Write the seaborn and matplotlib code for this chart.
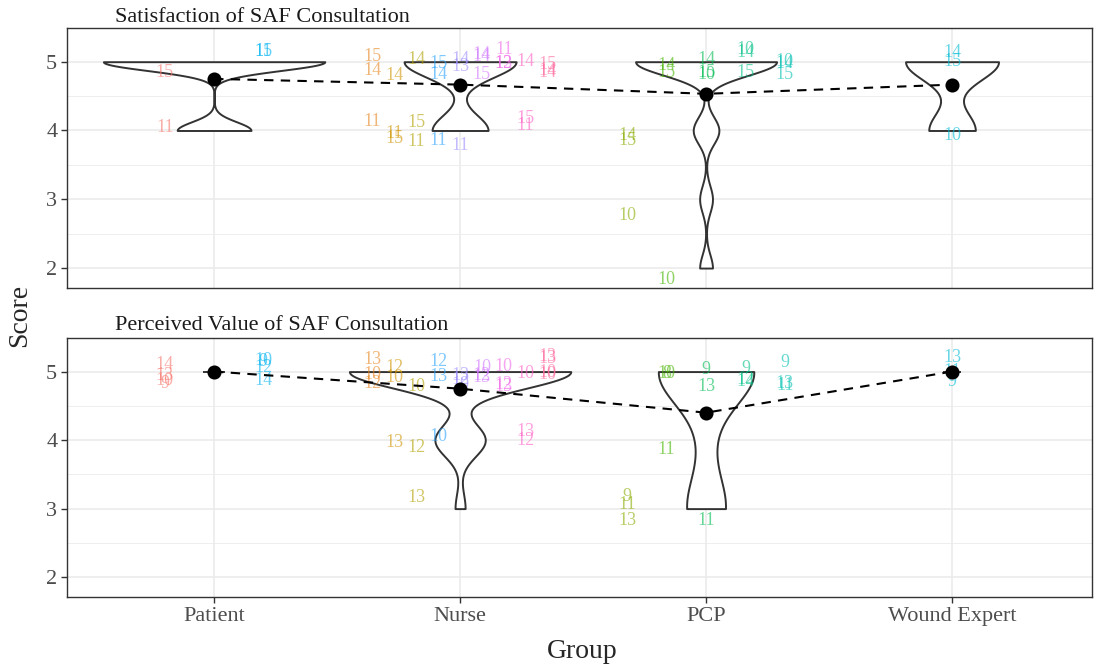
import numpy as np
import pandas as pd
import matplotlib
matplotlib.use("Agg")
import matplotlib.pyplot as plt
import seaborn as sns

# ---------------- data ----------------
GROUPS = ["Patient", "Nurse", "PCP", "Wound Expert"]
N_COHORTS = 17
TITLES = ["Satisfaction of SAF Consultation", "Perceived Value of SAF Consultation"]

# Panel 1: Satisfaction
sat_group = ["Patient", "Patient", "Patient", "Patient",
             "Nurse", "Nurse", "Nurse", "Nurse", "Nurse", "Nurse", "Nurse", "Nurse", "Nurse",
             "Nurse", "Nurse", "Nurse", "Nurse", "Nurse", "Nurse", "Nurse", "Nurse", "Nurse",
             "Nurse", "Nurse", "Nurse", "Nurse", "Nurse", "Nurse", "Nurse", "Nurse", "Nurse",
             "PCP", "PCP", "PCP", "PCP", "PCP", "PCP", "PCP", "PCP", "PCP", "PCP", "PCP", "PCP",
             "PCP", "PCP", "PCP",
             "Wound Expert", "Wound Expert", "Wound Expert"]
sat_cohort = [1, 1, 11, 11,
              2, 2, 2, 3, 3, 3, 4, 4, 4, 12, 12, 12, 13, 13, 13, 14, 14, 14, 15, 15, 15,
              16, 16, 16, 17, 17, 17,
              5, 5, 5, 6, 6, 6, 7, 7, 7, 8, 8, 8, 9, 9, 9,
              10, 10, 10]
sat_score = [5, 4, 5, 5,
             5, 5, 4, 5, 4, 4, 5, 4, 4, 5, 5, 4, 5, 5, 4, 5, 5, 5, 5, 5, 5,
             5, 4, 4, 5, 5, 5,
             4, 4, 3, 5, 5, 2, 5, 5, 5, 5, 5, 5, 5, 5, 5,
             5, 5, 4]
sat_label = ["15", "11", "15", "11",
             "15", "14", "11", "14", "11", "15", "14", "15", "11", "15", "14", "11",
             "14", "13", "11", "14", "15", "14", "11", "13", "12", "14", "15", "11",
             "15", "14", "14",
             "14", "15", "10", "14", "15", "10", "14", "10", "15", "10", "14", "15",
             "10", "14", "15",
             "14", "15", "10"]
sat_jitter = [-0.15, 0.04, 0.15, 0.15,
              0.07, -0.13, 0.13, -0.20, -0.04, -0.12, 0.03, 0.12, -0.16, -0.03, -0.19, -0.15,
              0.03, -0.07, -0.22, 0.10, -0.18, 0.08, 0.18, -0.03, -0.02, 0.00, 0.18, 0.07,
              -0.04, -0.13, -0.15,
              -0.07, -0.15, -0.24, -0.06, -0.16, -0.16, 0.03, -0.19, -0.15, 0.18, 0.13, -0.16,
              0.00, -0.03, -0.19,
              0.13, 0.00, -0.07]

# Panel 2: Perceived value
val_group = ["Patient", "Patient", "Patient", "Patient", "Patient", "Patient", "Patient", "Patient",
             "Nurse", "Nurse", "Nurse", "Nurse", "Nurse", "Nurse", "Nurse", "Nurse", "Nurse",
             "Nurse", "Nurse", "Nurse", "Nurse", "Nurse", "Nurse", "Nurse", "Nurse", "Nurse",
             "Nurse", "Nurse", "Nurse", "Nurse", "Nurse", "Nurse", "Nurse", "Nurse", "Nurse",
             "Nurse",
             "PCP", "PCP", "PCP", "PCP", "PCP", "PCP", "PCP", "PCP", "PCP", "PCP", "PCP", "PCP",
             "PCP", "PCP", "PCP",
             "Wound Expert", "Wound Expert", "Wound Expert"]
val_cohort = [1, 1, 1, 1, 11, 11, 11, 11,
              2, 2, 2, 3, 3, 3, 4, 4, 4, 12, 12, 12, 13, 13, 13, 14, 14, 14, 15, 15, 15,
              16, 16, 16, 17, 17, 17, 17,
              5, 5, 5, 6, 6, 6, 7, 7, 7, 8, 8, 8, 9, 9, 9,
              10, 10, 10]
val_score = [5, 5, 5, 5, 5, 5, 5, 5,
             5, 5, 5, 5, 5, 4, 5, 4, 3, 5, 5, 4, 5, 5, 5, 5, 5, 5, 5, 5, 5,
             5, 4, 4, 5, 5, 5, 5,
             3, 3, 3, 5, 5, 4, 5, 5, 3, 5, 5, 5, 5, 5, 5,
             5, 5, 5]
val_label = ["14", "13", "10", "9", "10", "9", "12", "14",
             "13", "10", "12", "12", "10", "13", "10", "12", "13", "12", "13", "10",
             "13", "12", "10", "10", "13", "12", "10", "13", "12", "10", "13", "12",
             "13", "13", "10", "10",
             "9", "11", "13", "10", "8", "11", "9", "13", "11", "9", "12", "14",
             "9", "13", "11",
             "13", "11", "9"]
val_jitter = [0.10, -0.06, -0.13, -0.17, 0.16, 0.15, 0.06, -0.13,
              0.17, -0.04, -0.17, 0.06, -0.09, -0.04, -0.22, -0.11, 0.16, 0.15, -0.07, 0.05,
              -0.06, -0.12, -0.19, 0.06, -0.09, -0.05, 0.07, -0.22, -0.19, -0.03, 0.12, 0.00,
              0.22, 0.19, -0.01, -0.04,
              0.18, 0.06, -0.18, -0.03, -0.03, -0.14, 0.03, -0.22, -0.18, 0.04, -0.12, -0.15,
              0.13, -0.18, -0.20,
              0.20, 0.00, -0.15]


# ---------------- helpers ----------------
def hue_pal(n, c=100.0, l=65.0):
    """ggplot2-like HCL hue palette."""
    hues = np.linspace(15, 375, n + 1)[:n]
    Xn, Yn, Zn = 95.047, 100.0, 108.883
    den = Xn + 15 * Yn + 3 * Zn
    un, vn = 4 * Xn / den, 9 * Yn / den
    M = np.array([[3.2404542, -1.5371385, -0.4985314],
                  [-0.9692660, 1.8760108, 0.0415560],
                  [0.0556434, -0.2040259, 1.0572252]])
    cols = []
    for h in hues:
        hr = np.deg2rad(h)
        u, v = c * np.cos(hr), c * np.sin(hr)
        Y = Yn * ((l + 16) / 116) ** 3
        up, vp = u / (13 * l) + un, v / (13 * l) + vn
        X = Y * 9 * up / (4 * vp)
        Z = Y * (12 - 3 * up - 20 * vp) / (4 * vp)
        rgb = M @ np.array([X, Y, Z]) / 100
        rgb = np.where(rgb <= 0.0031308, 12.92 * rgb, 1.055 * np.abs(rgb) ** (1 / 2.4) - 0.055)
        cols.append(tuple(np.clip(rgb, 0, 1)))
    return cols


def bw_nrd0(x):
    x = np.asarray(x, float)
    hi = np.std(x, ddof=1)
    q75, q25 = np.percentile(x, [75, 25])
    lo = min(hi, (q75 - q25) / 1.34)
    if not lo:
        lo = hi or abs(x[0]) or 1.0
    return 0.9 * lo * len(x) ** -0.2


def nrd0_factor(kde):
    x = kde.dataset.ravel()
    return bw_nrd0(x) / np.std(x, ddof=1)


def peak_density(x):
    x = np.asarray(x, float)
    bw = bw_nrd0(x)
    if x.min() == x.max():
        return 1 / (np.sqrt(2 * np.pi) * bw)
    grid = np.linspace(x.min(), x.max(), 512)
    d = np.exp(-0.5 * ((grid[:, None] - x[None, :]) / bw) ** 2).sum(1) / (len(x) * bw * np.sqrt(2 * np.pi))
    return d.max()


palette = hue_pal(N_COHORTS)

# ---------------- figure ----------------
sns.set_style("white")
plt.rcParams["font.family"] = ["Liberation Serif", "DejaVu Serif"]

fig = plt.figure(figsize=(10.94, 6.67), dpi=100)
W, H = 1094, 667
ax_top = fig.add_axes([67 / W, 1 - 288 / H, (1092 - 67) / W, 260 / H])
ax_bot = fig.add_axes([67 / W, 1 - 597 / H, (1092 - 67) / W, 259 / H])

panels = [
    (ax_top, sat_group, sat_cohort, sat_score, sat_label, sat_jitter),
    (ax_bot, val_group, val_cohort, val_score, val_label, val_jitter),
]

EDGE = "#333333"
DODGE_W = 0.8
VIOLIN_W = 0.9

for pi, (ax, grp, coh, sc, lab, jit) in enumerate(panels):
    df = pd.DataFrame({"group": grp, "cohort": coh, "score": sc, "label": lab, "jitter": jit})
    varying = [g for g in GROUPS if df.loc[df.group == g, "score"].nunique() > 1]
    flat = [g for g in GROUPS if df.loc[df.group == g, "score"].nunique() == 1]
    dv = df[df.group.isin(varying)]

    sns.violinplot(data=dv, x="group", y="score", order=GROUPS, ax=ax,
                   density_norm="area", cut=0, inner=None, width=VIOLIN_W,
                   bw_method=nrd0_factor, gridsize=512, color="white",
                   linecolor=EDGE, linewidth=1.4, saturation=1)

    # zero-variance groups collapse to a short horizontal segment
    dmax = max(peak_density(dv.loc[dv.group == g, "score"]) for g in varying)
    for g in flat:
        vals = df.loc[df.group == g, "score"].values
        half = VIOLIN_W / 2 * peak_density(vals) / dmax
        i = GROUPS.index(g)
        ax.hlines(vals[0], i - half, i + half, color=EDGE, lw=1.4, zorder=2)

    # dodged, jittered text labels coloured by cohort
    for gi, g in enumerate(GROUPS):
        sub = df[df.group == g]
        levels = sorted(sub.cohort.unique())
        n = len(levels)
        for _, r in sub.iterrows():
            k = levels.index(r.cohort)
            xpos = gi + (k - (n - 1) / 2) * DODGE_W / n
            ax.text(xpos, r.score + r.jitter, r.label, color=palette[r.cohort - 1],
                    alpha=0.6, fontsize=13, ha="center", va="center", zorder=3,
                    family=["Liberation Serif", "DejaVu Serif"])

    # group means with dashed connecting line
    n_before = len(ax.lines)
    sns.pointplot(data=df, x="group", y="score", order=GROUPS, estimator="mean",
                  errorbar=None, color="black", linestyle="--", marker="o",
                  markersize=9, linewidth=1.5, ax=ax)
    for ln in ax.lines[n_before:]:
        ln.set_dashes((4.5, 3.5))
        ln.set_zorder(5)

    # cosmetics (ggplot theme_bw look)
    ax.set_xlim(-0.598, 3.569)
    ax.set_ylim(1.71, 5.49)
    ax.set_yticks([2, 3, 4, 5])
    ax.set_yticks([2.5, 3.5, 4.5], minor=True)
    ax.set_xticks(range(len(GROUPS)))
    ax.set_axisbelow(True)
    ax.grid(True, which="major", color="#EBEBEB", lw=1.2)
    ax.grid(True, which="minor", axis="y", color="#EBEBEB", lw=0.6)
    ax.set_xlabel("")
    ax.set_ylabel("")
    for s in ax.spines.values():
        s.set_visible(True)
        s.set_color(EDGE)
        s.set_linewidth(1.0)
    ax.tick_params(axis="y", which="major", length=4, width=1, color=EDGE,
                   labelsize=16, labelcolor="#4D4D4D", pad=3, left=True)
    ax.tick_params(axis="y", which="minor", length=0)
    if pi == 0:
        ax.tick_params(axis="x", length=0, labelbottom=False)
    else:
        ax.set_xticklabels(GROUPS)
        ax.tick_params(axis="x", length=4, width=1, color=EDGE, labelsize=16,
                       labelcolor="#4D4D4D", pad=3, bottom=True)

fig.text(115 / W, 1 - 17 / H, TITLES[0], fontsize=16, ha="left", va="center", color="#1A1A1A")
fig.text(115 / W, 1 - 326 / H, TITLES[1], fontsize=16, ha="left", va="center", color="#1A1A1A")
fig.text(20 / W, 1 - 315 / H, "Score", fontsize=20, rotation=90, ha="center", va="center")
fig.text(582 / W, 1 - 652 / H, "Group", fontsize=20, ha="center", va="center")

fig.savefig("out.png", dpi=100)
